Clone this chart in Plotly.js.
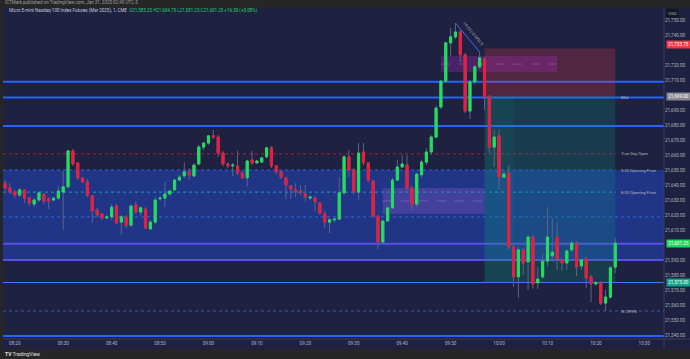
<!DOCTYPE html>
<html><head><meta charset="utf-8">
<script src="https://cdn.plot.ly/plotly-3.0.1.min.js"></script>
<style>html,body{margin:0;padding:0;background:#262626;overflow:hidden}#chart{width:690px;height:359px}</style>
</head><body><div id="chart"></div>
<script>
// 1-minute candles, MNQ (Mar 2025), starting 08:18
const sessionDate = "2025-01-31";
const firstMinute = "08:18";
const opens = [
21641.25,21638.0,21635.25,21633.25,21636.75,21631.25,21627.25,21630.0,21634.0,21630.75,
21630.0,21631.25,21635.25,21638.75,21662.75,21654.75,21644.75,21642.0,21632.75,21623.25,
21620.75,21618.0,21618.75,21626.0,21615.25,21618.75,21613.25,21626.75,21622.0,21624.0,
21610.75,21615.25,21630.75,21631.25,21634.0,21636.75,21643.25,21646.0,21648.75,21646.0,
21654.0,21665.25,21668.0,21672.75,21672.0,21661.25,21654.0,21652.75,21652.75,21648.0,
21644.75,21656.75,21654.75,21655.25,21658.75,21664.75,21652.75,21648.75,21644.75,21639.25,
21636.75,21636.0,21634.0,21631.25,21631.25,21628.0,21620.75,21615.25,21616.75,21617.25,
21634.75,21658.75,21650.0,21635.25,21662.0,21654.75,21642.75,21619.25,21602.0,21616.0,
21624.75,21643.25,21652.0,21653.25,21638.0,21627.25,21646.75,21655.25,21662.0,21672.0,
21692.0,21709.25,21734.75,21738.75,21742.0,21726.75,21689.25,21708.75,21718.75,21724.0,
21698.75,21665.25,21672.75,21645.25,21648.0,21598.75,21578.75,21596.75,21588.75,21605.25,
21574.75,21578.75,21589.25,21592.75,21605.25,21590.0,21588.0,21596.75,21601.25,21586.0,
21590.75,21578.75,21574.0,21574.75,21561.25,21565.25,21585.25];
const highs = [
21643.25,21641.25,21636.75,21638.0,21637.25,21632.0,21631.25,21636.0,21634.75,21632.0,
21632.0,21639.25,21649.25,21663.25,21664.0,21655.25,21645.25,21644.0,21633.25,21624.75,
21621.25,21620.0,21627.25,21627.25,21620.0,21620.0,21626.75,21629.25,21626.0,21625.25,
21616.75,21632.0,21632.75,21642.0,21636.75,21644.0,21646.75,21655.25,21651.25,21654.75,
21666.75,21668.75,21673.25,21676.75,21673.25,21662.75,21655.25,21654.75,21662.75,21649.25,
21656.75,21662.75,21656.75,21659.25,21665.25,21666.0,21653.25,21649.25,21645.25,21640.0,
21641.25,21640.0,21640.0,21632.75,21632.75,21628.75,21623.25,21618.0,21618.0,21645.25,
21660.0,21663.25,21651.25,21668.0,21668.0,21655.25,21643.25,21620.0,21616.75,21625.25,
21644.75,21656.75,21660.0,21660.0,21639.25,21648.0,21656.75,21664.75,21673.25,21692.75,
21710.0,21735.25,21744.75,21748.0,21743.25,21728.0,21710.0,21720.0,21728.75,21725.25,
21700.0,21676.75,21676.75,21648.75,21653.25,21600.0,21598.75,21598.0,21606.75,21606.75,
21585.25,21594.75,21625.25,21618.0,21615.25,21591.25,21597.25,21602.75,21602.75,21591.25,
21592.0,21580.0,21576.0,21576.0,21570.0,21586.0,21604.75];
const lows = [
21636.75,21634.0,21631.25,21632.0,21628.0,21626.0,21625.25,21628.75,21626.75,21624.0,
21629.25,21630.0,21610.0,21638.0,21652.75,21643.25,21641.25,21632.0,21614.75,21618.0,
21616.75,21617.25,21616.75,21614.0,21606.75,21611.25,21612.0,21620.75,21619.25,21610.75,
21610.0,21614.0,21629.25,21625.25,21632.75,21636.0,21642.75,21644.75,21643.25,21645.25,
21653.25,21663.25,21666.75,21670.75,21658.75,21652.75,21651.25,21646.0,21646.75,21644.0,
21638.75,21653.25,21654.0,21654.75,21658.0,21651.25,21647.25,21644.0,21630.75,21630.75,
21632.0,21633.25,21628.75,21630.0,21622.75,21620.0,21611.25,21608.0,21615.25,21616.75,
21633.25,21645.25,21634.0,21630.0,21653.25,21642.0,21618.0,21597.25,21601.25,21615.25,
21624.0,21642.75,21651.25,21636.75,21623.25,21625.25,21644.75,21653.25,21660.0,21670.75,
21690.75,21708.0,21726.0,21737.25,21722.0,21688.0,21684.0,21707.25,21717.25,21690.0,
21661.25,21652.0,21636.75,21644.75,21596.75,21572.0,21564.75,21580.0,21570.0,21570.75,
21570.75,21577.25,21586.0,21588.75,21583.25,21582.75,21583.25,21595.25,21579.25,21583.25,
21571.25,21562.0,21572.75,21560.0,21556.0,21564.0,21581.25];
const closes = [
21638.0,21635.25,21633.25,21636.75,21631.25,21628.0,21630.0,21634.75,21629.25,21629.25,
21631.25,21636.0,21638.75,21662.75,21654.0,21644.75,21642.0,21633.25,21622.75,21620.0,
21618.0,21618.75,21625.25,21614.75,21618.75,21613.25,21626.0,21622.0,21624.75,21611.25,
21615.25,21630.0,21631.25,21634.0,21636.0,21643.25,21645.25,21648.75,21646.75,21653.25,
21665.25,21668.0,21672.75,21672.0,21661.25,21654.0,21652.75,21653.25,21648.0,21644.75,
21656.0,21654.75,21656.0,21658.0,21664.75,21652.75,21648.75,21645.25,21640.0,21637.25,
21636.0,21634.75,21632.0,21632.0,21628.75,21621.25,21615.25,21616.75,21617.25,21634.75,
21658.75,21650.0,21635.25,21661.25,21654.75,21643.25,21619.25,21602.0,21616.0,21624.75,
21643.25,21652.0,21654.0,21638.0,21627.25,21647.25,21655.25,21662.0,21672.0,21691.25,
21709.25,21734.75,21738.75,21742.0,21726.75,21689.25,21708.75,21718.75,21724.75,21698.75,
21665.25,21672.0,21645.25,21647.25,21598.75,21578.75,21596.75,21588.0,21605.25,21574.0,
21577.25,21589.25,21605.25,21595.25,21590.75,21588.0,21596.0,21601.25,21585.25,21590.0,
21578.0,21574.0,21574.75,21561.25,21565.25,21584.75,21601.25];

// Price-axis tick labels (those hidden behind coloured tags are left out, as on the original)
const yTickValues = [21540, 21550, 21560, 21570, 21580, 21590, 21610, 21620, 21630, 21640,
  21650, 21660, 21670, 21680, 21690, 21710, 21720, 21740, 21750];

// Drawn levels
const blueLevels = [21708.75, 21698.25, 21679.25, 21539.25];
const violetLevels = [21600.75, 21590.0];
const targetLevel = 21575.0;
const premiumBand = [21590.0, 21650.0];
const positionEntry = 21699.0, positionStop = 21731.0, positionTarget = 21575.0;
const positionTimes = ["09:57", "10:24"];
const fvgUpper = {t: ["09:48", "10:12"], p: [21715.25, 21726.0]};
const fvgLower = {t: ["09:36", "09:57"], p: [21620.75, 21638.0]};
const refLevelNames = ["True Day Open", "9:30 Opening Price", "8:30 Opening Price", "W OPEN", "Mid"];
const refLevelPrices = [21660.75, 21650.0, 21635.25, 21556.0, 21698.25];
const extraDotted = [21618.75];
const trendPts = {t: ["09:51", "09:56"], p: [21748.0, 21728.75]};
const axisTagPrices = [21733.75, 21699.00, 21601.25, 21575.00];
const axisTagColors = ["#f23645", "#868993", "#22d65c", "#10a58a"];

const T = s => sessionDate + " " + s + (s.length === 5 ? ":00" : "");
const [fh, fm] = firstMinute.split(":").map(Number);
const pad = n => (n < 10 ? "0" : "") + n;
const times = opens.map((_, i) => { const m = fh * 60 + fm + i; return T(pad(Math.floor(m / 60)) + ":" + pad(m % 60)); });
const bodyHigh = opens.map((o, i) => Math.max(o, closes[i]));
const bodyLow = opens.map((o, i) => Math.min(o, closes[i]));

const GREEN = "#1fe05c", RED = "#e91e3f", WICK = "#5c6384";
const fmt = v => v.toLocaleString("en-US", {minimumFractionDigits: 2, maximumFractionDigits: 2});

const traces = [
  {type: "candlestick", x: times, open: opens, high: highs, low: lows, close: closes,
   increasing: {line: {color: WICK, width: 1}, fillcolor: WICK},
   decreasing: {line: {color: WICK, width: 1}, fillcolor: WICK},
   hoverinfo: "skip", showlegend: false},
  {type: "candlestick", x: times, open: opens, high: bodyHigh, low: bodyLow, close: closes,
   increasing: {line: {color: GREEN, width: 1}, fillcolor: GREEN},
   decreasing: {line: {color: RED, width: 1}, fillcolor: RED},
   hoverinfo: "skip", showlegend: false}
];

const shapes = [];
shapes.push({type: "rect", xref: "paper", yref: "paper", x0: 1, x1: 1.05, y0: -0.031, y1: 1, fillcolor: "#1e2140", line: {width: 0}, layer: "below"});
shapes.push({type: "rect", xref: "paper", yref: "paper", x0: 0, x1: 1.05, y0: -0.031, y1: 0, fillcolor: "#1e2140", line: {width: 0}, layer: "below"});
shapes.push({type: "rect", xref: "paper", yref: "y", x0: 0, x1: 1, y0: premiumBand[0], y1: premiumBand[1], fillcolor: "#213586", line: {width: 0}, layer: "below"});
shapes.push({type: "rect", xref: "x", yref: "y", x0: T(positionTimes[0]), x1: T(positionTimes[1]), y0: positionTarget, y1: positionEntry, fillcolor: "rgba(8,153,129,0.22)", line: {width: 0}, layer: "below"});
shapes.push({type: "rect", xref: "x", yref: "y", x0: T(positionTimes[0]), x1: T("10:03"), y0: positionTarget, y1: positionEntry, fillcolor: "rgba(8,153,129,0.10)", line: {width: 0}, layer: "below"});
shapes.push({type: "rect", xref: "x", yref: "y", x0: T(positionTimes[0]), x1: T(positionTimes[1]), y0: positionEntry, y1: positionStop, fillcolor: "rgba(242,54,69,0.24)", line: {width: 0}, layer: "below"});
shapes.push({type: "rect", xref: "x", yref: "y", x0: T(fvgUpper.t[0]), x1: T(fvgUpper.t[1]), y0: fvgUpper.p[0], y1: fvgUpper.p[1], fillcolor: "rgba(156,39,176,0.35)", line: {width: 0}, layer: "below"});
shapes.push({type: "line", xref: "x", yref: "y", x0: T(fvgUpper.t[0]), x1: T(fvgUpper.t[1]), y0: (fvgUpper.p[0] + fvgUpper.p[1]) / 2, y1: (fvgUpper.p[0] + fvgUpper.p[1]) / 2, line: {color: "rgba(210,150,240,0.45)", width: 0.7, dash: "dash"}, layer: "below"});
shapes.push({type: "rect", xref: "x", yref: "y", x0: T(fvgLower.t[0]), x1: T(fvgLower.t[1]), y0: fvgLower.p[0], y1: fvgLower.p[1], fillcolor: "rgba(126,87,194,0.38)", line: {width: 0}, layer: "below"});
shapes.push({type: "line", xref: "x", yref: "y", x0: T(fvgLower.t[0]), x1: T(fvgLower.t[1]), y0: (fvgLower.p[0] + fvgLower.p[1]) / 2, y1: (fvgLower.p[0] + fvgLower.p[1]) / 2, line: {color: "rgba(190,160,255,0.45)", width: 0.7, dash: "dash"}, layer: "below"});
const dotColors = ["#b0204a", "#2f63d0", "#1e9cc0", "#3558d0", null];
refLevelPrices.forEach((p, i) => {
  if (!dotColors[i]) return;
  shapes.push({type: "line", xref: "paper", yref: "y", x0: 0, x1: i === 3 ? 1 : 0.927, y0: p, y1: p, line: {color: dotColors[i], width: 1, dash: "dot"}, layer: "below"});
});
extraDotted.forEach(p => shapes.push({type: "line", xref: "paper", yref: "y", x0: 0, x1: 1, y0: p, y1: p, line: {color: "#3565d8", width: 1, dash: "dot"}, layer: "below"}));
blueLevels.forEach(p => shapes.push({type: "line", xref: "paper", yref: "y", x0: 0, x1: 1, y0: p, y1: p, line: {color: "#2962ff", width: 2}, layer: "below"}));
violetLevels.forEach(p => shapes.push({type: "line", xref: "paper", yref: "y", x0: 0, x1: 1, y0: p, y1: p, line: {color: "#5a4ee6", width: 2}, layer: "below"}));
shapes.push({type: "line", xref: "paper", yref: "y", x0: 0, x1: 1, y0: targetLevel, y1: targetLevel, line: {color: "#3d7bff", width: 1.2}, layer: "below"});
shapes.push({type: "line", xref: "x", yref: "y", x0: T(trendPts.t[0]), x1: T(trendPts.t[1]), y0: trendPts.p[0], y1: trendPts.p[1], line: {color: "#3f6fff", width: 1}});
shapes.push({type: "line", xref: "paper", yref: "paper", x0: 1, x1: 1, y0: -0.031, y1: 1, line: {color: "#3a3f5e", width: 1}});
shapes.push({type: "line", xref: "paper", yref: "paper", x0: 0, x1: 1.05, y0: 0, y1: 0, line: {color: "#3a3f5e", width: 1}});

const F = "Roboto, 'DejaVu Sans', sans-serif";
const annotations = [];
annotations.push({xref: "paper", yref: "paper", x: 0, y: 1.016, xanchor: "left", yanchor: "middle", showarrow: false,
  text: "ICTMark published on TradingView.com, Jan 31, 2025 02:49 UTC-5", font: {family: F, size: 4.5, color: "#a0a0a0"}});
annotations.push({xref: "paper", yref: "paper", x: 0.006, y: 0.991, xanchor: "left", yanchor: "middle", showarrow: false,
  text: "Micro E-mini Nasdaq-100 Index Futures (Mar 2025), 1, CME  <span style='color:#22d65c'>O21,585.25 H21,604.75 L21,581.25 C21,601.25 +16.50 (+0.08%)</span>",
  font: {family: F, size: 4.5, color: "#c8cad2"}});
annotations.push({xref: "paper", yref: "paper", x: 0, y: -0.046, xanchor: "left", yanchor: "middle", showarrow: false,
  text: "<b>TV</b> TradingView", font: {family: F, size: 5, color: "#e0e0e0"}});
annotations.push({xref: "paper", yref: "paper", x: 1, xshift: 2, y: 0.985, xanchor: "left", yanchor: "middle", showarrow: false,
  text: "USD", bgcolor: "#131722", borderpad: 1.5, font: {family: F, size: 4.2, color: "#b2b5be"}});
refLevelNames.forEach((n, i) => annotations.push({xref: "x", yref: "y", x: T("10:24:50"), y: refLevelPrices[i], xanchor: "left", yanchor: "middle", showarrow: false,
  text: n, font: {family: F, size: 4.2, color: "#b2b5be"}}));
axisTagPrices.forEach((p, i) => annotations.push({xref: "paper", yref: "y", x: 1, xshift: 1.5, y: p, xanchor: "left", yanchor: "middle", showarrow: false,
  text: fmt(p), bgcolor: axisTagColors[i], borderpad: 1.2, font: {family: F, size: 4.6, color: "#ffffff"}}));
annotations.push({xref: "x", yref: "y", x: T("09:53:40"), y: (trendPts.p[0] + trendPts.p[1]) / 2, xshift: 5, yshift: 4, showarrow: false,
  textangle: 50, text: "-19.25 (-0.09%) 5", font: {family: F, size: 4, color: "#b2b5be"}});

const layout = {
  width: 690, height: 359,
  margin: {l: 3, r: 26, t: 8, b: 20, pad: 0},
  paper_bgcolor: "#262626", plot_bgcolor: "#1e2140",
  showlegend: false, boxgap: 0.38, boxmode: "overlay",
  xaxis: {type: "date", range: [T("08:17:34"), T("10:34:04")], rangeslider: {visible: false},
    showgrid: false, zeroline: false, showline: false, ticks: "", dtick: 600000, tickformat: "%H:%M",
    tickfont: {family: F, size: 4.6, color: "#b2b5be"}, fixedrange: true},
  yaxis: {side: "right", range: [21537.33, 21758], showgrid: false, zeroline: false, showline: false, ticks: "",
    tickmode: "array", tickvals: yTickValues, ticktext: yTickValues.map(fmt),
    tickfont: {family: F, size: 4.6, color: "#b2b5be"}, fixedrange: true},
  shapes: shapes, annotations: annotations
};
Plotly.newPlot("chart", traces, layout, {staticPlot: true, displayModeBar: false});
</script></body></html>
